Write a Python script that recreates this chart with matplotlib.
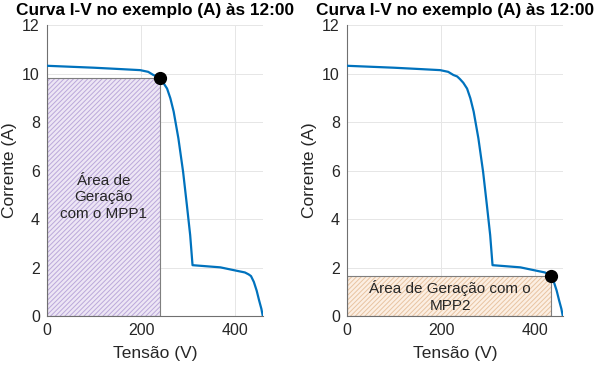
import numpy as np
import matplotlib.pyplot as plt
from matplotlib.patches import Rectangle

plt.rcParams['font.family'] = ['Liberation Sans', 'DejaVu Sans']
plt.rcParams['hatch.linewidth'] = 0.7

# I-V curve
tensao = [0, 50, 100, 150, 198, 215, 226, 234, 240, 247, 255, 262, 269, 279,
          289, 297, 304, 309, 368, 400, 420, 428, 433, 439, 445, 450, 455, 458]
corrente = [10.32, 10.28, 10.24, 10.19, 10.14, 10.07, 9.94, 9.88, 9.77, 9.62,
            9.38, 8.98, 8.43, 7.33, 5.95, 4.58, 3.34, 2.1, 2.01, 1.88, 1.8,
            1.72, 1.65, 1.41, 1.05, 0.66, 0.3, 0.0]

mpp1 = (240, 9.8)
mpp2 = (433, 1.65)

titulo = "Curva I-V no exemplo (A) às 12:00"
texto1 = "Área de\nGeração\ncom o MPP1"
texto2 = "Área de Geração com o\nMPP2"

fig = plt.figure(figsize=(6, 3.68), dpi=100)
ax1 = fig.add_axes([0.078, 0.141, 0.36, 0.791])
ax2 = fig.add_axes([0.578, 0.141, 0.36, 0.791])

configs = [
    (ax1, mpp1, texto1, '#ede6f5', '#bba8da', (120, 4.9)),
    (ax2, mpp2, texto2, '#fcefe3', '#e8c4a2', (219, 0.82)),
]

for ax, mpp, txt, face, hatchc, pos in configs:
    rect = Rectangle((0, 0), mpp[0], mpp[1], facecolor=face, edgecolor=hatchc,
                     hatch='///////', linewidth=0, zorder=1)
    ax.add_patch(rect)
    border = Rectangle((0, 0), mpp[0], mpp[1], facecolor='none',
                       edgecolor='#7f7f7f', linewidth=0.8, zorder=2)
    ax.add_patch(border)
    ax.plot(tensao, corrente, color='#0072BD', linewidth=1.6, zorder=3)
    ax.plot(mpp[0], mpp[1], 'o', color='black', markersize=8.5, zorder=4)
    ax.text(pos[0], pos[1], txt, ha='center', va='center', fontsize=11,
            color='#262626', zorder=5, linespacing=1.25)
    ax.set_xlim(0, 458)
    ax.set_ylim(0, 12)
    ax.set_xticks([0, 200, 400])
    ax.set_yticks([0, 2, 4, 6, 8, 10, 12])
    ax.grid(True, color='#e6e6e6', linewidth=0.7, zorder=0)
    ax.set_axisbelow(True)
    for s in ['top', 'right']:
        ax.spines[s].set_visible(False)
    for s in ['left', 'bottom']:
        ax.spines[s].set_color('#707070')
        ax.spines[s].set_linewidth(0.8)
    ax.tick_params(length=0, labelsize=11.5, colors='#262626', pad=5)
    ax.set_xlabel("Tensão (V)", fontsize=12.5, color='#262626', labelpad=6)
    ax.set_ylabel("Corrente (A)", fontsize=12.5, color='#262626', labelpad=4)
    ax.set_title(titulo, fontsize=12.4, fontweight='bold', pad=7)

fig.savefig("out.png", dpi=100)
